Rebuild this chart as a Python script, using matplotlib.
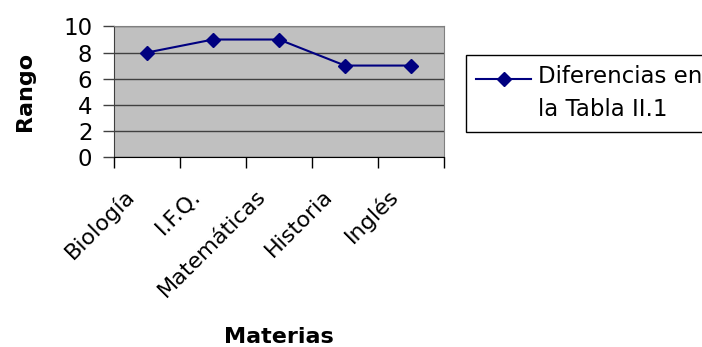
import numpy as np
import matplotlib.pyplot as plt
from matplotlib.lines import Line2D
from matplotlib.legend_handler import HandlerLine2D
from matplotlib.transforms import ScaledTranslation

materias = ['Biología', 'I.F.Q.', 'Matemáticas', 'Historia', 'Inglés']
rango = [8, 9, 9, 7, 7]
serie = 'Diferencias en\nla Tabla II.1'
y_ticks = [0, 2, 4, 6, 8, 10]

plt.rcParams['font.family'] = 'DejaVu Sans'

fig = plt.figure(figsize=(7.02, 3.47), dpi=100)
ax = fig.add_axes([114/702, 190.3/347, 330/702, 130.2/347])
ax.set_facecolor('#c0c0c0')

x = np.arange(len(materias))
ax.plot(x, rango, color='#000080', lw=1.5, marker='D', markersize=7,
        label=serie, zorder=3)

ax.set_xlim(-0.5, len(materias) - 0.5)
ax.set_ylim(0, 10)

# gridlines
ax.set_yticks(y_ticks)
ax.yaxis.grid(True, color='#404040', lw=1)
ax.set_axisbelow(True)

# category labels at the centres, tick marks at the boundaries
ax.set_xticks(x)
ax.set_xticklabels(materias, rotation=45, ha='right', va='center',
                   rotation_mode='anchor')
ax.set_xticks(np.arange(-0.5, len(materias)), minor=True)
ax.tick_params(axis='x', which='major', length=0, pad=26, labelsize=16)
ax.tick_params(axis='x', which='minor', length=8, width=1, color='black')
ax.tick_params(axis='y', length=8, width=1, color='#404040', labelsize=16.5, pad=7.5)
off = ScaledTranslation(-0.16, 0, fig.dpi_scale_trans)
for lab in ax.get_xticklabels():
    lab.set_transform(lab.get_transform() + off)

for s in ['top', 'right']:
    ax.spines[s].set_color('#808080')
ax.spines['left'].set_color('#404040')
ax.spines['bottom'].set_color('black')

ax.set_ylabel('Rango', fontsize=16, fontweight='bold')
ax.yaxis.set_label_coords(-0.24, 0.5)
ax.set_xlabel('Materias', fontsize=16, fontweight='bold')
ax.xaxis.set_label_coords(0.5, -1.31)


# legend key sits level with the first line of its label
def raise_key(h, orig):
    h.update_from(orig)
    h.set_ydata(np.asarray(h.get_ydata(), dtype=float) + 10.8)


leg = ax.legend(loc='upper left', bbox_to_anchor=(466/702, 1 - 55/347),
                bbox_transform=fig.transFigure, borderaxespad=0,
                fontsize=16.5, handlelength=2.4, handletextpad=0.3,
                borderpad=0.45, fancybox=False, framealpha=1,
                handler_map={Line2D: HandlerLine2D(update_func=raise_key)})
leg.get_frame().set_edgecolor('black')
leg.get_frame().set_linewidth(1)
for t in leg.get_texts():
    t.set_linespacing(1.55)

fig.savefig('out.png', dpi=100)
